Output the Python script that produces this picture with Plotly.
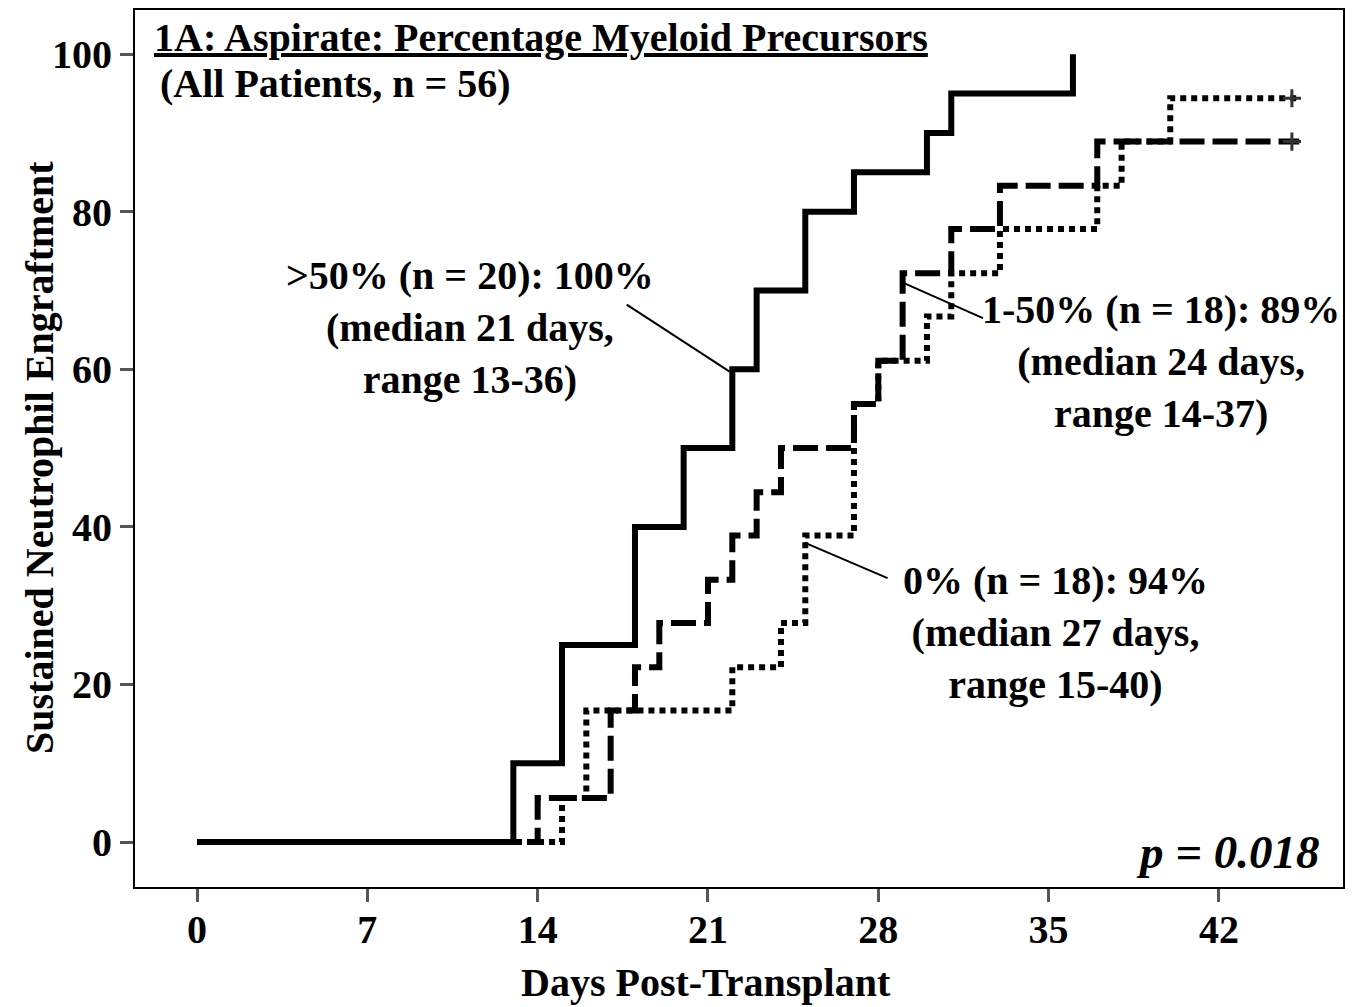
import plotly.graph_objects as go

# ---- data ----
# >50% myeloid precursors (n = 20)
days_hi = [0, 13, 15, 18, 20, 22, 23, 25, 27, 30, 31, 36]
pct_hi = [0, 10, 25, 40, 50, 60, 70, 80, 85, 90, 95, 100]

# 1-50% (n = 18)
days_mid = [0, 14, 17, 18, 19, 21, 22, 23, 24, 27, 28, 29, 31, 33, 37, 45.3]
pct_mid = [0, 5.6, 16.7, 22.2, 27.8, 33.3, 38.9, 44.4, 50.0, 55.6, 61.1, 72.2, 77.8, 83.3, 88.9, 88.9]

# 0% (n = 18)
days_zero = [0, 15, 16, 22, 24, 25, 27, 28, 30, 31, 33, 37, 38, 40, 45.3]
pct_zero = [0, 5.6, 16.7, 22.2, 27.8, 38.9, 55.6, 61.1, 66.7, 72.2, 77.8, 83.3, 88.9, 94.4, 94.4]

# censored observations (+)
cens_days = [45, 45]
cens_pct = [94.4, 88.9]

x_ticks = [0, 7, 14, 21, 28, 35, 42]
y_ticks = [0, 20, 40, 60, 80, 100]

labels = [
    ">50% (n = 20): 100%<br>(median 21 days,<br>range 13-36)",
    "1-50% (n = 18): 89%<br>(median 24 days,<br>range 14-37)",
    "0% (n = 18): 94%<br>(median 27 days,<br>range 15-40)",
]
label_pos = [(11.2, 65.3), (39.6, 61.0), (35.3, 26.6)]
# pointer lines: (tail_x, tail_y, tip_x, tip_y)
pointers = [(17.66, 68.2, 21.89, 59.7), (32.3, 66.5, 29.08, 70.9), (28.38, 33.5, 24.97, 38.0)]

FONT = "Liberation Serif, Times New Roman, serif"
FS = 40

fig = go.Figure()
fig.add_trace(go.Scatter(x=days_hi, y=pct_hi, mode="lines", line_shape="hv",
                         line=dict(color="black", width=6), showlegend=False))
fig.add_trace(go.Scatter(x=days_mid, y=pct_mid, mode="lines", line_shape="hv",
                         line=dict(color="black", width=6, dash="25px,8px"), showlegend=False))
fig.add_trace(go.Scatter(x=days_zero, y=pct_zero, mode="lines", line_shape="hv",
                         line=dict(color="black", width=6, dash="6px,5px"), showlegend=False))
fig.add_trace(go.Scatter(x=cens_days, y=cens_pct, mode="markers",
                         marker=dict(symbol="cross-thin", size=13, line=dict(color="#333", width=3)),
                         showlegend=False))

for (tx, ty, hx, hy) in pointers:
    fig.add_shape(type="line", x0=tx, y0=ty, x1=hx, y1=hy, xref="x", yref="y",
                  line=dict(color="black", width=2))

for txt, (lx, ly) in zip(labels, label_pos):
    fig.add_annotation(x=lx, y=ly, xref="x", yref="y", text=txt, showarrow=False,
                       align="center", font=dict(size=FS, color="black"))

fig.add_annotation(x=0.014, y=0.969, xref="paper", yref="paper", xanchor="left", yanchor="middle",
                   text="<u>1A: Aspirate: Percentage Myeloid Precursors</u>", showarrow=False,
                   font=dict(size=FS, color="black"))
fig.add_annotation(x=0.019, y=0.916, xref="paper", yref="paper", xanchor="left", yanchor="middle",
                   text="(All Patients, n = 56)", showarrow=False,
                   font=dict(size=FS, color="black"))
fig.add_annotation(x=0.9826, y=0.04, xref="paper", yref="paper", xanchor="right", yanchor="middle",
                   text="<i>p = 0.018</i>", showarrow=False,
                   font=dict(size=47, color="black"))

# axis titles
fig.add_annotation(x=(706 - 135) / 1208, y=-(983 - 887) / 879, xref="paper", yref="paper",
                   text="Days Post-Transplant", showarrow=False, xanchor="center", yanchor="middle",
                   font=dict(size=FS, color="black"))
fig.add_annotation(x=-(135 - 40) / 1208, y=(887 - 457) / 879, xref="paper", yref="paper",
                   text="Sustained Neutrophil Engraftment", showarrow=False, textangle=-90,
                   xanchor="center", yanchor="middle", font=dict(size=FS, color="black"))

fig.update_layout(
    width=1355, height=999,
    margin=dict(l=127, r=20, t=0, b=120),
    paper_bgcolor="white", plot_bgcolor="white",
    font=dict(family=FONT, size=FS, color="black", weight="bold"),
)
fig.update_xaxes(range=[-2.55, 47.1], tickvals=x_ticks, ticktext=[str(v) for v in x_ticks],
                 showgrid=False, zeroline=False, showline=True, mirror=True,
                 linecolor="black", linewidth=2, ticks="outside", ticklen=13, tickwidth=3,
                 tickcolor="#555", tickfont=dict(size=FS), ticklabelstandoff=-7)
fig.update_yaxes(range=[-5.7, 105.6], tickvals=y_ticks, ticktext=[str(v) for v in y_ticks],
                 showgrid=False, zeroline=False, showline=True, mirror=True,
                 linecolor="black", linewidth=2, ticks="outside", ticklen=13, tickwidth=3,
                 tickcolor="#555", tickfont=dict(size=FS))

fig.write_html("out.html")
